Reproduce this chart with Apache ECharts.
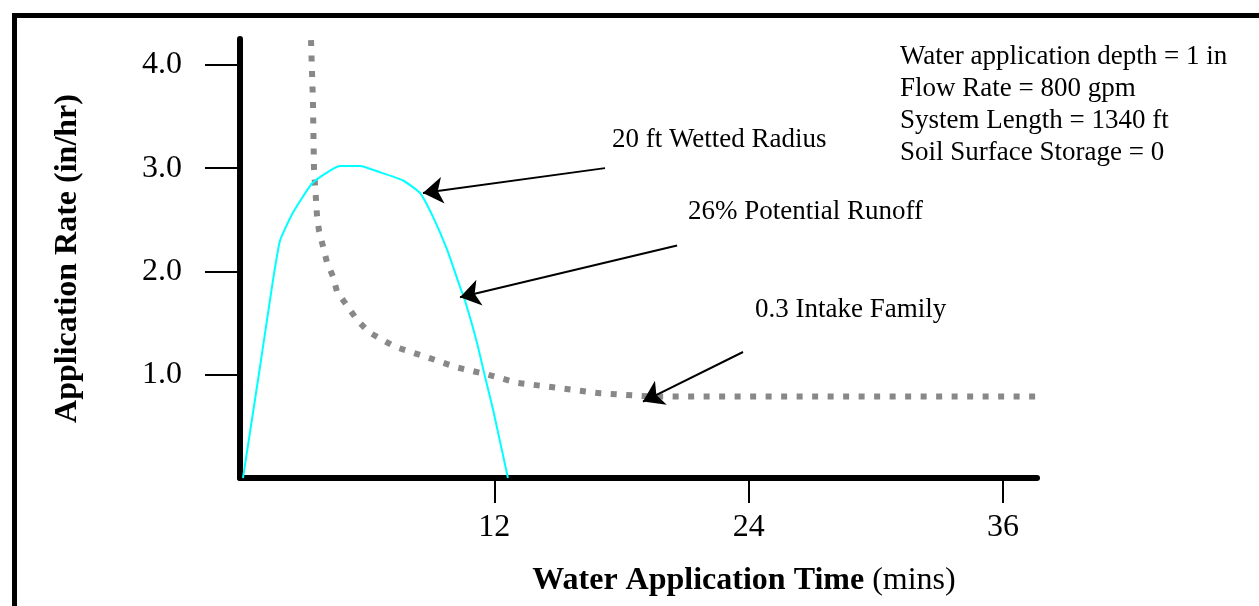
<!DOCTYPE html>
<html>
<head>
<meta charset="utf-8">
<script src="https://cdn.jsdelivr.net/npm/echarts@6/dist/echarts.min.js"></script>
<style>
  html, body { margin: 0; padding: 0; background: #fff; }
  #container { width: 1259px; height: 606px; }
</style>
</head>
<body>
<div id="container"></div>
<script>
// wetted radius curve (cyan) - time in mins, rate in in/hr
let radiusTime = [0.14, 0.94, 1.56, 1.89, 2.5, 3.44, 4.72, 5.66, 6.6, 7.69, 8.49, 9.1, 9.77, 10.38, 10.61, 11.18, 11.56, 11.94, 12.64];
let radiusRate = [0, 1.07, 1.92, 2.30, 2.57, 2.86, 3.02, 3.02, 2.96, 2.88, 2.76, 2.53, 2.21, 1.85, 1.72, 1.31, 0.98, 0.66, 0];

// 0.3 intake family (grey dots)
let intakeTime = [3.35, 3.44, 3.49, 3.63, 3.73, 3.92, 4.1, 4.39, 4.58, 5.05, 5.52, 6.09, 7.31, 8.82, 10.24, 11.7, 13.12, 15.1, 16.99, 19.34, 37.6];
let intakeRate = [4.24, 3.65, 3.0, 2.55, 2.39, 2.24, 2.09, 1.95, 1.8, 1.67, 1.53, 1.41, 1.27, 1.17, 1.07, 1.0, 0.92, 0.87, 0.82, 0.79, 0.79];

let xTicks = [12, 24, 36];
let yTicks = [1, 2, 3, 4];

// arrows: [from, to] in data coords
let arrows = [
  [[17.22, 3.00], [8.63, 2.76]],
  [[20.62, 2.25], [10.38, 1.75]],
  [[23.73, 1.22], [19.01, 0.74]],
];

let infoLines = [
  'Water application depth = 1 in',
  'Flow Rate = 800 gpm',
  'System Length = 1340 ft',
  'Soil Surface Storage = 0',
];
let labels = ['20 ft Wetted Radius', '26% Potential Runoff', '0.3 Intake Family'];

const serif = "'Liberation Serif', 'Times New Roman', serif";

let graph = echarts.init(document.getElementById('container'));

let zip = (xs, ys) => xs.map((x, i) => [x, ys[i]]);

let graphics = [
  {
    type: 'rect',
    shape: { x: 14.5, y: 15.5, width: 1400, height: 800 },
    style: { fill: 'none', stroke: '#000', lineWidth: 5 },
    silent: true,
  },
  {
    type: 'text',
    x: 744,
    y: 581,
    style: {
      text: '{b|Water Application Time}{n| (mins)}',
      align: 'center',
      verticalAlign: 'middle',
      rich: {
        b: { fontFamily: serif, fontSize: 32, fontWeight: 'bold', fill: '#000' },
        n: { fontFamily: serif, fontSize: 32, fill: '#000' },
      },
    },
  },
];
infoLines.forEach((t, i) => {
  graphics.push({
    type: 'text',
    x: 900,
    y: 57 + i * 32,
    style: { text: t, fontFamily: serif, fontSize: 27, fill: '#000', verticalAlign: 'middle' },
  });
});
let labelPos = [[612, 140], [688, 212], [755, 310]];
labels.forEach((t, i) => {
  graphics.push({
    type: 'text',
    x: labelPos[i][0],
    y: labelPos[i][1],
    style: { text: t, fontFamily: serif, fontSize: 27, fill: '#000', verticalAlign: 'middle' },
  });
});

let option = {
  animation: false,
  backgroundColor: '#fff',
  grid: { left: 240, top: 39, width: 797, height: 439 },
  xAxis: {
    type: 'value',
    min: 0,
    max: 37.6,
    interval: 12,
    splitLine: { show: false },
    axisLine: { lineStyle: { color: '#000', width: 6 } },
    axisTick: { customValues: xTicks, length: 25, lineStyle: { color: '#000', width: 2 } },
    axisLabel: {
      customValues: xTicks,
      margin: 34,
      fontFamily: serif,
      fontSize: 32,
      color: '#000',
    },
  },
  yAxis: {
    type: 'value',
    min: 0,
    max: 4.25,
    interval: 1,
    name: 'Application Rate (in/hr)',
    nameLocation: 'middle',
    nameGap: 156,
    nameTextStyle: { fontFamily: serif, fontSize: 32, fontWeight: 'bold', color: '#000' },
    splitLine: { show: false },
    axisLine: { show: true, lineStyle: { color: '#000', width: 6 } },
    axisTick: { show: true, customValues: yTicks, length: 35, lineStyle: { color: '#000', width: 2 } },
    axisLabel: {
      customValues: yTicks,
      margin: 58,
      fontFamily: serif,
      fontSize: 32,
      color: '#000',
      formatter: (v) => v.toFixed(1),
    },
  },
  series: [
    {
      name: '0.3 Intake Family',
      type: 'line',
      data: zip(intakeTime, intakeRate),
      showSymbol: false,
      lineStyle: { color: '#888', width: 6, type: [6, 9.5], cap: 'butt' },
      z: 2,
    },
    {
      name: '20 ft Wetted Radius',
      type: 'line',
      data: zip(radiusTime, radiusRate),
      showSymbol: false,
      smooth: 0.15,
      lineStyle: { color: '#00ffff', width: 2 },
      z: 3,
      markLine: {
        silent: true,
        symbol: ['none', 'arrow'],
        symbolSize: 20,
        label: { show: false },
        lineStyle: { color: '#000', width: 2, type: 'solid' },
        data: arrows.map((a) => [{ coord: a[0] }, { coord: a[1] }]),
      },
    },
  ],
  graphic: graphics,
};

graph.setOption(option);
</script>
</body>
</html>
